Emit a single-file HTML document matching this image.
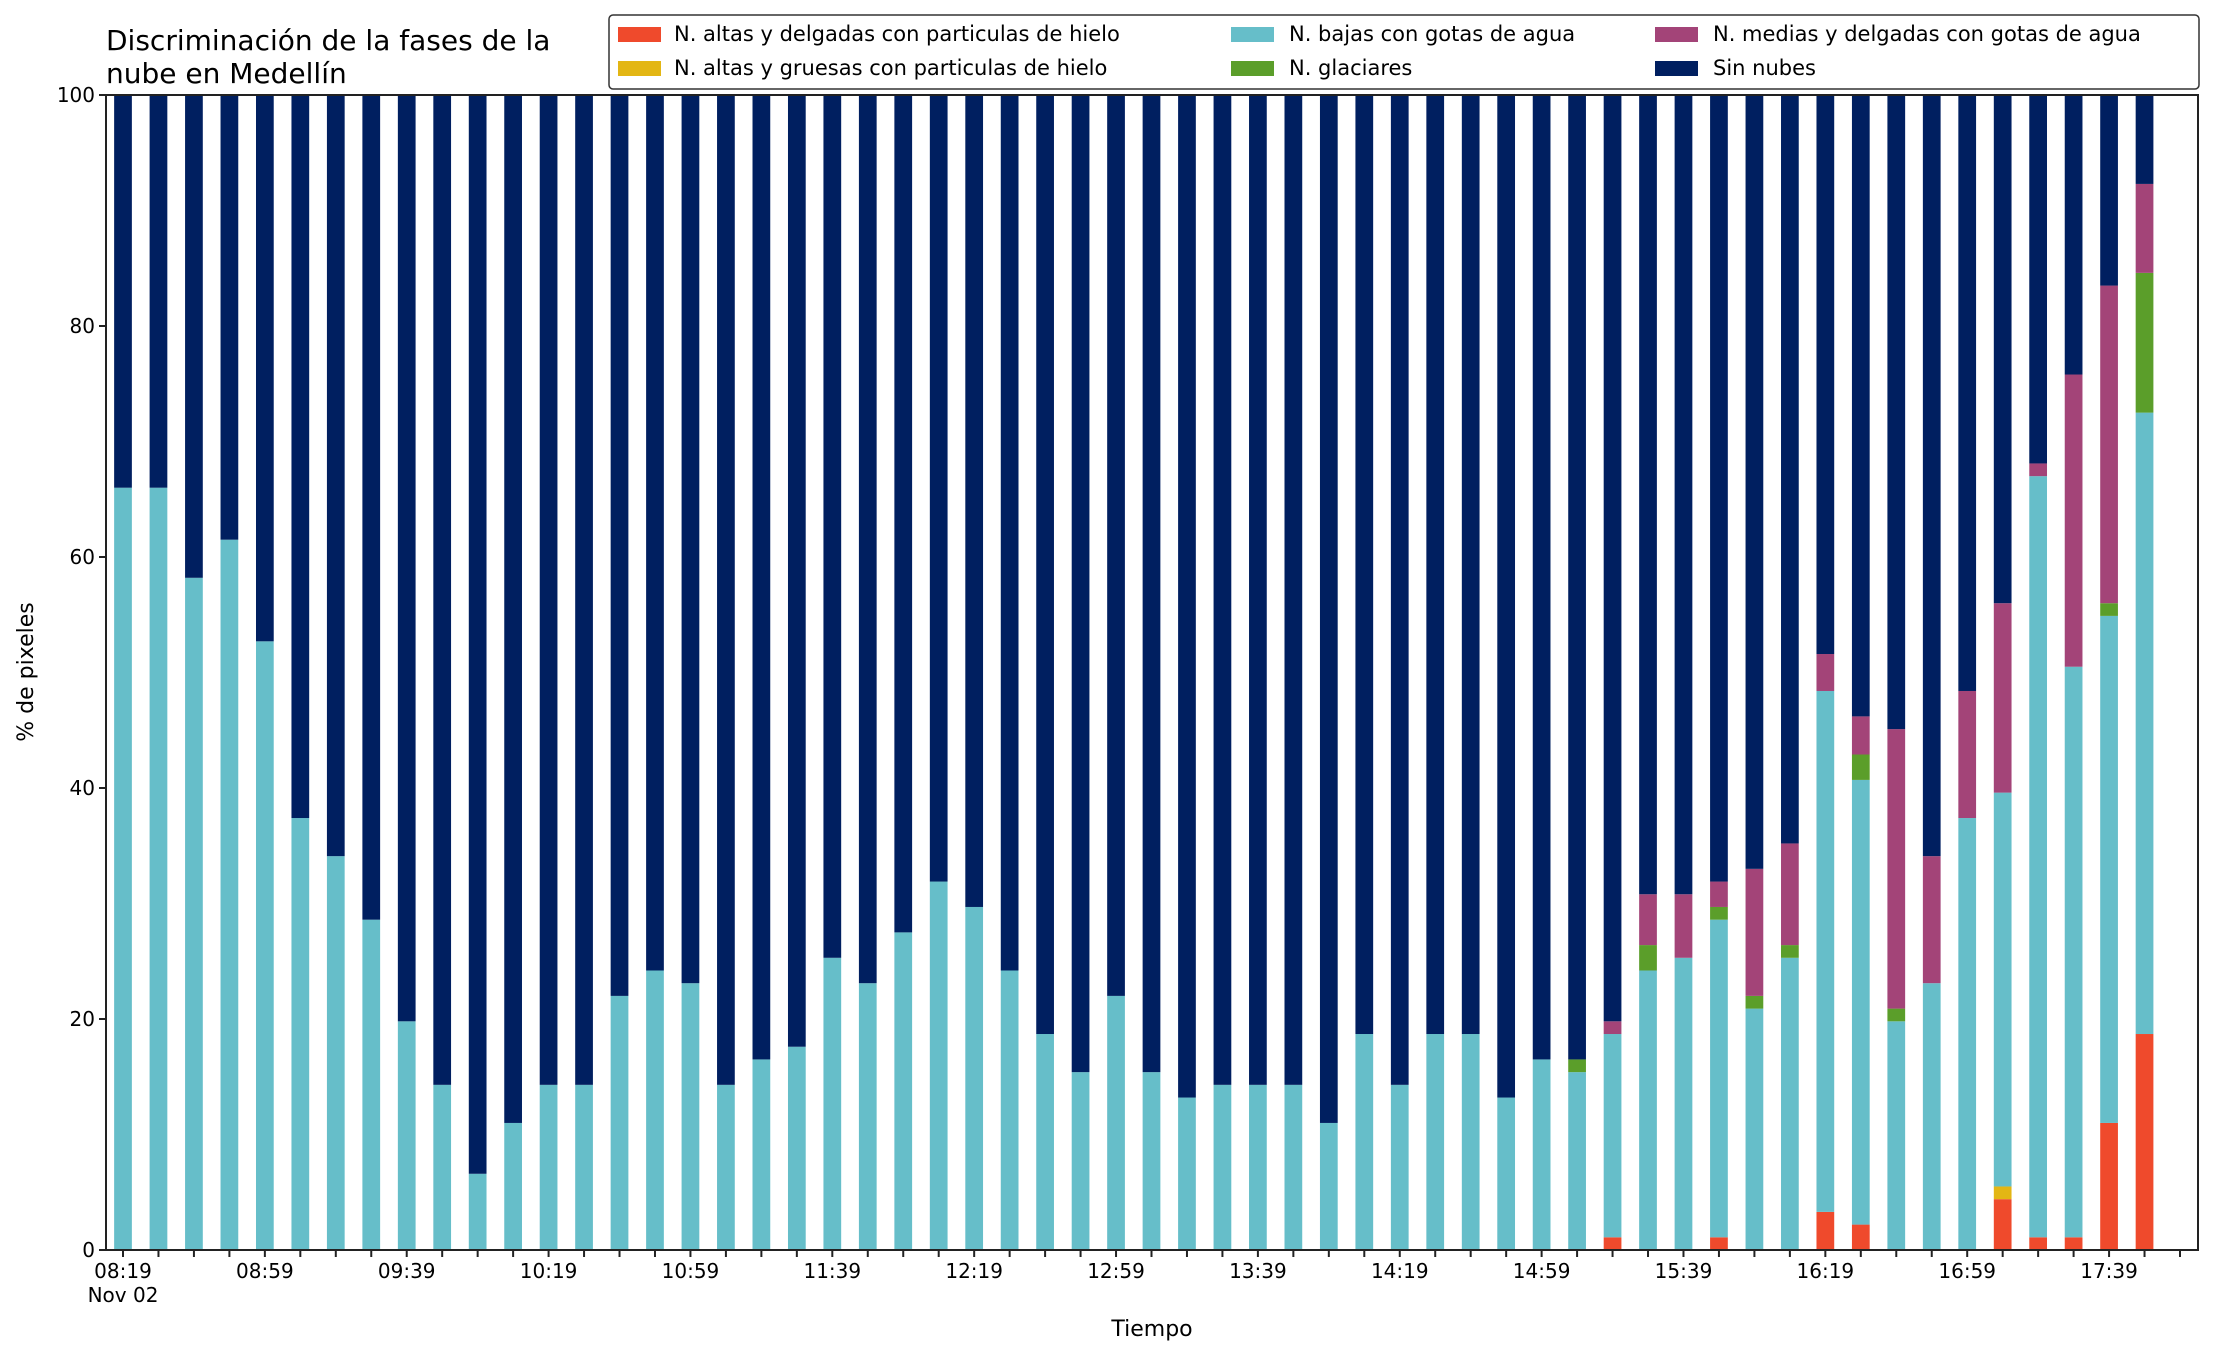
<!DOCTYPE html>
<html><head><meta charset="utf-8"><style>
html,body{margin:0;padding:0;background:#fff;}
svg{display:block;font-family:"DejaVu Sans","Liberation Sans",sans-serif;}
</style></head><body>
<svg id="chart" width="2216" height="1355" viewBox="0 0 2216 1355" xmlns="http://www.w3.org/2000/svg">
<rect x="0" y="0" width="2216" height="1355" fill="#fff"/>
<text x="106" y="50" font-size="28" fill="#000">Discriminación de la fases de la</text>
<text x="106" y="83" font-size="28" fill="#000">nube en Medellín</text>
<g id="bars"></g>
<g id="axes"></g>
<text x="0" y="0" font-size="22" text-anchor="middle" transform="translate(33,672) rotate(-90)">% de pixeles</text>
<text x="1152" y="1336" font-size="22" text-anchor="middle">Tiempo</text>
<g>
<rect x="609" y="15" width="1590" height="74" rx="4" fill="#fff" stroke="#333" stroke-width="1.5"/>
<g><rect x="618" y="27" width="43" height="15" fill="#ef4a2c"/><text x="674" y="41" font-size="21">N. altas y delgadas con particulas de hielo</text></g>
<g><rect x="618" y="61" width="43" height="15" fill="#e3b614"/><text x="674" y="75" font-size="21">N. altas y gruesas con particulas de hielo</text></g>
<g><rect x="1231" y="27" width="43" height="15" fill="#66bec9"/><text x="1289" y="41" font-size="21">N. bajas con gotas de agua</text></g>
<g><rect x="1231" y="61" width="43" height="15" fill="#5b9e2a"/><text x="1289" y="75" font-size="21">N. glaciares</text></g>
<g><rect x="1655" y="27" width="43" height="15" fill="#a34478"/><text x="1713" y="41" font-size="21">N. medias y delgadas con gotas de agua</text></g>
<g><rect x="1655" y="61" width="43" height="15" fill="#001f60"/><text x="1713" y="75" font-size="21">Sin nubes</text></g>
</g>
</svg>
<script>
const times = [];
for (let i = 0; i < 59; i++) { const m = 8*60+19+i*10; times.push(String(Math.floor(m/60)).padStart(2,'0')+':'+String(m%60).padStart(2,'0')); }
const altasDelgadas = [0,0,0,0,0,0,0,0,0,0,0,0,0,0,0,0,0,0,0,0,0,0,0,0,0,0,0,0,0,0,0,0,0,0,0,0,0,0,0,0,0,0,1.1,0,0,1.1,0,0,3.3,2.2,0,0,0,4.4,1.1,1.1,11,18.7];
const altasGruesas = [0,0,0,0,0,0,0,0,0,0,0,0,0,0,0,0,0,0,0,0,0,0,0,0,0,0,0,0,0,0,0,0,0,0,0,0,0,0,0,0,0,0,0,0,0,0,0,0,0,0,0,0,0,1.1,0,0,0,0];
const bajas = [66,66,58.2,61.5,52.7,37.4,34.1,28.6,19.8,14.3,6.6,11,14.3,14.3,22,24.2,23.1,14.3,16.5,17.6,25.3,23.1,27.5,31.9,29.7,24.2,18.7,15.4,22,15.4,13.2,14.3,14.3,14.3,11,18.7,14.3,18.7,18.7,13.2,16.5,15.4,17.6,24.2,25.3,27.5,20.9,25.3,45.1,38.5,19.8,23.1,37.4,34.1,65.9,49.4,43.9,53.8];
const glaciares = [0,0,0,0,0,0,0,0,0,0,0,0,0,0,0,0,0,0,0,0,0,0,0,0,0,0,0,0,0,0,0,0,0,0,0,0,0,0,0,0,0,1.1,0,2.2,0,1.1,1.1,1.1,0,2.2,1.1,0,0,0,0,0,1.1,12.1];
const medias = [0,0,0,0,0,0,0,0,0,0,0,0,0,0,0,0,0,0,0,0,0,0,0,0,0,0,0,0,0,0,0,0,0,0,0,0,0,0,0,0,0,0,1.1,4.4,5.5,2.2,11,8.8,3.2,3.3,24.2,11,11,16.4,1.1,25.3,27.5,7.7];
const series = [
  {name:'altas-delgadas', vals:altasDelgadas, color:'#ef4a2c'},
  {name:'altas-gruesas', vals:altasGruesas, color:'#e3b614'},
  {name:'bajas', vals:bajas, color:'#66bec9'},
  {name:'glaciares', vals:glaciares, color:'#5b9e2a'},
  {name:'medias', vals:medias, color:'#a34478'}
];
const yTicks = [0,20,40,60,80,100];
const L=106, R=2198, T=95, B=1250, X0=123, DX=(2180-123)/58, BW=DX*0.5;
const xs = i => X0 + i*DX;
const ys = v => B - (v/100)*(B-T);
const NS='http://www.w3.org/2000/svg';
const barsG = document.getElementById('bars'), axesG = document.getElementById('axes');
function mk(tag, attrs, parent){ const e=document.createElementNS(NS,tag); for(const k in attrs) e.setAttribute(k,attrs[k]); parent.appendChild(e); return e; }
for (let i = 0; i < bajas.length; i++) {
  let cum = 0;
  for (const s of series) {
    const v = s.vals[i]; if (!v) continue;
    const r = mk('rect',{x:xs(i)-BW/2,y:ys(cum+v),width:BW,height:ys(cum)-ys(cum+v),fill:s.color},barsG);
    
    
    cum += v;
  }
  const r = mk('rect',{x:xs(i)-BW/2,y:ys(100),width:BW,height:ys(cum)-ys(100),fill:'#001f60'},barsG);
  
  
}
const frame = mk('rect',{x:L,y:T,width:R-L,height:B-T,fill:'none',stroke:'#222','stroke-width':2},axesG);


for (const t of yTicks) {
  mk('line',{x1:L-7,x2:L,y1:ys(t),y2:ys(t),stroke:'#222','stroke-width':2},axesG);
  const tx = mk('text',{x:L-11,y:ys(t)+7,'font-size':20,'text-anchor':'end'},axesG);
  tx.textContent = t;
  
  
}
for (let i = 0; i < times.length; i++) {
  mk('line',{x1:xs(i),x2:xs(i),y1:B,y2:B+7,stroke:'#222','stroke-width':2},axesG);
  if (i % 4 === 0) {
    const tx = mk('text',{x:xs(i),y:B+28,'font-size':20,'text-anchor':'middle'},axesG);
    tx.textContent = times[i];
    
    
  }
}
const d = mk('text',{x:xs(0),y:B+52,'font-size':20,'text-anchor':'middle'},axesG);
d.textContent = 'Nov 02';


</script>
</body></html>
